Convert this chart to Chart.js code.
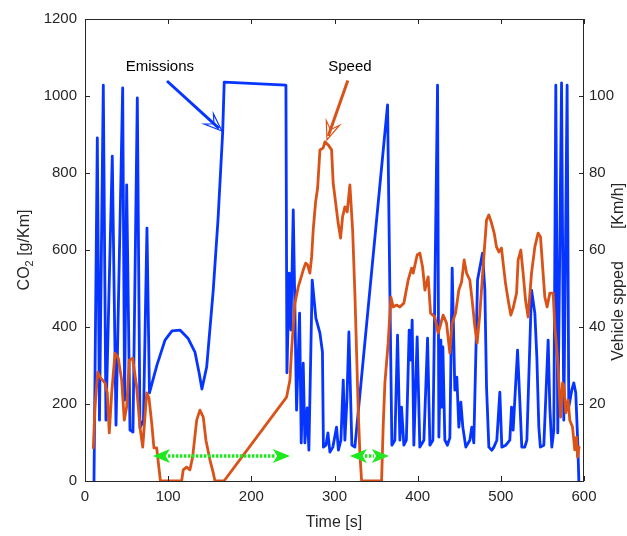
<!DOCTYPE html>
<html>
<head>
<meta charset="utf-8">
<script src="https://cdn.jsdelivr.net/npm/chart.js@4.4.0/dist/chart.umd.min.js"></script>
<style>
html, body { margin: 0; padding: 0; background: #fff; }
canvas { display: block; }
</style>
</head>
<body>
<canvas id="chart" width="627" height="536"></canvas>
<script>
const FONT = "'Liberation Sans', Arial, sans-serif";

// emissions [g/km] against time [s]
const timeCO2 = [10.8,14.8,17.4,22,25.2,32.8,37.3,45.3,47.6,50.1,
	54.1,57.7,62.9,66.1,70.3,74.5,77.5,86.5,96.2,104.6,
	114.2,123.8,132.2,137,140.6,146.3,154.2,159.9,165.5,167.4,
	241.6,242.8,245.6,247.6,250.4,254.4,258,260,262.4,264.4,
	267.2,269.2,273.2,277.6,282.5,285.5,286.7,289.7,292.1,294.5,
	298,302.5,304.7,307.7,310.5,312.5,314.9,317.3,320.9,324.5,
	363.8,366.6,369,372.6,375.8,378.6,380.6,383.4,386.4,389.8,
	391.8,393.4,395.4,399.4,402.6,407.5,411.9,414.7,418.3,423.9,
	425.5,427.9,429.1,430.3,432.7,435.7,438.7,441.5,444.7,447.1,
	449.5,451.9,454.3,457.9,462.7,465.1,467.5,472,478,480.8,
	482.8,485.6,489.2,491.6,495.2,498.8,501.2,506,510.8,512.9,
	514.8,520.1,522.8,525.2,528.8,531.3,536.9,540.9,543.3,545.7,
	547.5,551.7,556.9,558.9,561.3,563.7,566.1,568.5,573,575.7,
	579.7,581.7,585.3,587.7,590.1,592.5,593.8];
const co2 = [0,891,158,1028,158,844,145,1021,210,769,
	132,127,995,138,158,657,229,301,366,390,
	392,371,335,283,239,296,496,678,904,1036,
	1028,281,540,392,704,184,436,99,306,99,
	190,80,522,423,384,335,88,93,125,75,
	88,140,80,106,262,106,210,387,93,88,
	977,488,93,106,379,106,192,93,106,392,
	314,418,93,374,88,106,371,93,106,1028,
	114,366,192,348,106,93,112,553,236,270,
	140,205,140,88,106,140,99,522,592,496,
	244,88,80,88,106,231,88,93,106,192,
	132,340,210,88,88,106,496,436,322,140,
	88,93,366,192,88,132,1028,125,1034,158,
	1028,192,236,255,229,99,0];

// vehicle speed [km/h] against time [s]
const timeSpeed = [10,12,15.3,18,24,26.8,29.2,32.1,36.1,40,
	44.1,47.2,50.1,53.2,57.3,62.1,66.1,69.4,74.2,76.9,
	80.2,82.9,86.2,88.9,90.7,116.2,118.1,122.2,126.2,129.4,
	134.3,138.2,142.2,145.4,150.2,154.2,156.3,167.1,242.4,246.4,
	248.4,252.4,256.4,259.6,262.4,265.3,267.7,270.4,272.5,274.4,
	277.3,279.7,282.5,286.4,288.5,292.4,296.5,298.4,300.5,304.4,
	307.3,309.7,312.5,315.3,318.5,321.8,324.5,326.6,328.5,330.5,
	332.6,356.6,358.5,360.6,364.5,367.8,370.6,374.6,378.6,383.4,
	388.6,392.7,394.6,399.4,402.6,405.9,408.7,412.6,415.5,420.7,
	424.6,426.7,430.6,434.7,438.7,441.5,445.6,449.5,452.8,455.9,
	458.8,462.7,465.5,468.8,471.5,474.8,478.7,482.8,485.6,488.8,
	492,494.8,497.6,500.8,502.8,505.6,508.8,512,514.8,518.9,
	520.8,524,526.8,529.7,532.8,536.9,540.9,544.8,547.7,550.8,
	552.9,555.6,558.9,562.9,564.9,567.7,570.1,571.8,574.2,576.1,
	578.1,580.9,582.9,586.2,588.9,591,592.2,594.1];
const speed = [8.6,19.2,28.3,27,25.5,22.9,12.5,22.9,33.2,31.9,
	26.2,15.8,19.2,31.4,31.9,24.4,14,8.8,22.9,21.6,
	15.1,8.6,8.6,3.4,0,0,2.9,3.6,2.9,6.2,
	15.8,18.4,16.6,10.6,5.5,2.1,0,0,21.8,26.2,
	34,46.2,50.4,52.7,54.8,56.6,56.1,54,58.2,65.2,
	72.5,76.1,86,86.5,88.1,87.3,86,77.4,73.8,67,
	63.1,68.6,71.2,69.9,76.9,65.2,48.8,33.2,18.4,7.3,
	0,0,14,25.5,35.8,47.8,45.2,45.7,45.2,46.2,
	52.2,55.3,54,58.7,59.2,55.6,49.6,53,43.6,42.6,
	38.4,40,43.1,41,33.2,41,43.6,49.6,51.7,57.4,
	54,52.2,47,40,35.8,43.6,55.6,67.8,69.1,67,
	64.4,60.8,59.5,60.5,56.6,51.4,47,43.1,44.9,48.8,
	57.4,60,54,47,42.6,54,60.8,64.4,63.4,54,
	47.8,45.2,48.8,48.8,40,33.2,24.4,16.6,25.5,24.4,
	17.7,21,15.8,14,8.1,11.4,6.2,8.8];

// idle stretches marked with green arrows [start s, end s]
const idleSpans = [[81.7, 246.4], [318.5, 365.4]];

const toPoints = (xs, ys) => xs.map((v, i) => ({ x: v, y: ys[i] }));

// axis titles, box, inward ticks and the annotations (MATLAB look)
const decorations = {
	id: "decorations",
	afterDatasetsDraw(chart) {
		const { ctx, chartArea: a } = chart;
		const x = chart.scales.x, y = chart.scales.y, y1 = chart.scales.y1;
		ctx.save();

		// box + ticks
		ctx.strokeStyle = "#262626";
		ctx.lineWidth = 1;
		ctx.strokeRect(a.left + 0.5, a.top + 0.5, a.right - a.left - 1, a.bottom - a.top);
		ctx.beginPath();
		x.ticks.forEach(t => {
			const px = Math.round(x.getPixelForValue(t.value)) + 0.5;
			ctx.moveTo(px, a.bottom); ctx.lineTo(px, a.bottom - 5);
			ctx.moveTo(px, a.top); ctx.lineTo(px, a.top + 5);
		});
		y.ticks.forEach(t => {
			const py = Math.round(y.getPixelForValue(t.value)) + 0.5;
			ctx.moveTo(a.left, py); ctx.lineTo(a.left + 5, py);
		});
		y1.ticks.forEach(t => {
			const py = Math.round(y1.getPixelForValue(t.value)) + 0.5;
			ctx.moveTo(a.right, py); ctx.lineTo(a.right - 5, py);
		});
		ctx.stroke();

		// green double arrows
		const gy = y1.getPixelForValue(6.5);
		idleSpans.forEach(([t0, t1]) => {
			const x0 = x.getPixelForValue(t0), x1 = x.getPixelForValue(t1);
			const head = 17, hw = 7;
			ctx.strokeStyle = "#1ee81e";
			ctx.fillStyle = "#1ee81e";
			ctx.lineWidth = 3.5;
			ctx.setLineDash([2.5, 1.5]);
			ctx.beginPath();
			ctx.moveTo(x0 + head - 2, gy); ctx.lineTo(x1 - head + 2, gy);
			ctx.stroke();
			ctx.setLineDash([]);
			ctx.beginPath();
			ctx.moveTo(x0, gy); ctx.lineTo(x0 + head, gy - hw); ctx.lineTo(x0 + head * 0.75, gy); ctx.lineTo(x0 + head, gy + hw);
			ctx.closePath(); ctx.fill();
			ctx.beginPath();
			ctx.moveTo(x1, gy); ctx.lineTo(x1 - head, gy - hw); ctx.lineTo(x1 - head * 0.75, gy); ctx.lineTo(x1 - head, gy + hw);
			ctx.closePath(); ctx.fill();
		});

		// pointer arrows
		const arrow = (xa, ya, xb, yb, color) => {
			const ang = Math.atan2(yb - ya, xb - xa);
			const len = 18, hw = 7;
			const bx = xb - Math.cos(ang) * len, by = yb - Math.sin(ang) * len;
			const nx = -Math.sin(ang), ny = Math.cos(ang);
			ctx.strokeStyle = color;
			ctx.fillStyle = color;
			ctx.lineWidth = 3;
			ctx.beginPath();
			ctx.moveTo(xa, ya);
			ctx.lineTo(xb - Math.cos(ang) * 4, yb - Math.sin(ang) * 4);
			ctx.stroke();
			ctx.lineWidth = 1.2;
			ctx.beginPath();
			ctx.moveTo(xb, yb);
			ctx.lineTo(bx + nx * hw, by + ny * hw);
			ctx.lineTo(xb - Math.cos(ang) * len * 0.6, yb - Math.sin(ang) * len * 0.6);
			ctx.lineTo(bx - nx * hw, by - ny * hw);
			ctx.closePath();
			ctx.stroke();
		};
		arrow(x.getPixelForValue(98.6), y.getPixelForValue(1039), x.getPixelForValue(164.7), y.getPixelForValue(909), "#0535ff");
		arrow(x.getPixelForValue(316), y1.getPixelForValue(104), x.getPixelForValue(290.9), y1.getPixelForValue(88.6), "#d95319");

		ctx.fillStyle = "#000";
		ctx.font = "15px " + FONT;
		ctx.textAlign = "center";
		ctx.textBaseline = "middle";
		ctx.fillText("Emissions", x.getPixelForValue(90), y.getPixelForValue(1075));
		ctx.fillText("Speed", x.getPixelForValue(318.5), y.getPixelForValue(1075));

		// axis titles
		ctx.fillStyle = "#262626";
		ctx.font = "16px " + FONT;
		ctx.fillText("Time [s]", 334, 523);

		ctx.save();
		ctx.translate(25, 250);
		ctx.rotate(-Math.PI / 2);
		const p1 = "CO", p2 = "2", p3 = " [g/Km]";
		ctx.font = "16px " + FONT;
		const w1 = ctx.measureText(p1).width, w3 = ctx.measureText(p3).width;
		ctx.font = "11px " + FONT;
		const w2 = ctx.measureText(p2).width;
		let sx = -(w1 + w2 + w3) / 2;
		ctx.textAlign = "left";
		ctx.font = "16px " + FONT;
		ctx.fillText(p1, sx, 0);
		ctx.font = "11px " + FONT;
		ctx.fillText(p2, sx + w1, 5);
		ctx.font = "16px " + FONT;
		ctx.fillText(p3, sx + w1 + w2, 0);
		ctx.restore();

		ctx.save();
		ctx.translate(619, 0);
		ctx.rotate(-Math.PI / 2);
		ctx.textAlign = "center";
		ctx.fillText("Vehicle spped", -311, 0);
		ctx.fillText("[Km/h]", -206, 0);
		ctx.restore();

		ctx.restore();
	},
};

const lineStyle = {
	borderWidth: 2.8,
	pointRadius: 0,
	tension: 0,
	fill: false,
	borderJoinStyle: "round",
	borderCapStyle: "round",
};

const config = {
	type: "line",
	data: {
		datasets: [
			{
				label: "Speed",
				data: toPoints(timeSpeed, speed),
				yAxisID: "y1",
				borderColor: "#d95319",
				...lineStyle,
			},
			{
				label: "Emissions",
				data: toPoints(timeCO2, co2),
				yAxisID: "y",
				borderColor: "#0535ff",
				...lineStyle,
			},
		],
	},
	options: {
		responsive: false,
		animation: false,
		events: [],
		layout: { padding: { top: 19, left: 0, right: 0, bottom: 0 } },
		plugins: { legend: { display: false }, tooltip: { enabled: false } },
		scales: {
			x: {
				type: "linear",
				min: 0,
				max: 600,
				grid: { display: false, drawTicks: false },
				border: { display: false },
				ticks: { stepSize: 100, padding: 7, color: "#262626", font: { family: FONT, size: 15 }, callback: v => String(v) },
				afterFit: s => { s.height = 55; },
			},
			y: {
				position: "left",
				min: 0,
				max: 1200,
				grid: { display: false, drawTicks: false },
				border: { display: false },
				ticks: { stepSize: 200, padding: 8, color: "#262626", font: { family: FONT, size: 15 }, callback: v => String(v) },
				afterFit: s => { s.width = 85; },
			},
			y1: {
				position: "right",
				min: 0,
				max: 120,
				grid: { display: false, drawTicks: false },
				border: { display: false },
				ticks: {
					stepSize: 20,
					padding: 5,
					color: "#262626",
					font: { family: FONT, size: 15 },
					callback: v => (v === 0 || v === 120 ? "" : String(v)),
				},
				afterFit: s => { s.width = 43; },
			},
		},
	},
	plugins: [decorations],
};

const co2_chart = new Chart(document.getElementById("chart"), config);
</script>
</body>
</html>
